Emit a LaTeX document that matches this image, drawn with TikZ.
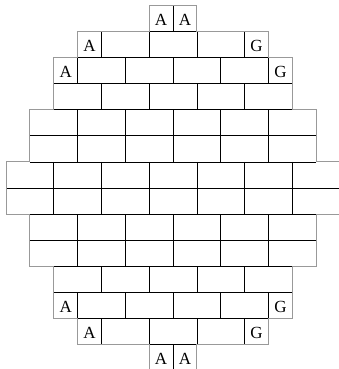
\documentclass[tikz,border=0pt]{standalone}
\usepackage{tikz}
\usepackage{fontspec}
\setmainfont{Liberation Serif}

\begin{document}
\begin{tikzpicture}[
    x=23.86pt, y=-26.1pt,
    joint/.style={draw=black, line width=0.7pt},
    rim/.style={draw=black!40, line width=0.8pt, line join=miter},
    tag/.style={inner sep=0pt, font=\fontsize{17}{17}\selectfont},
]
\useasboundingbox (-0.2515,-0.203) rectangle (13.956,13.935);

% Horizontal joints between the rows
\foreach \y/\a/\b in {1/6/8, 2/3/11, 3/2/12, 4/2/12, 5/1/13, 6/1/13, 7/0/14,
                      8/1/13, 9/1/13, 10/2/12, 11/2/12, 12/3/11, 13/6/8}
  \draw[joint] (\a,\y) -- (\b,\y);

% Vertical joints, row by row
\foreach \r/\xs in {0/{7}, 1/{4,6,8,10}, 2/{3,5,7,9,11}, 3/{4,6,8,10},
                    4/{3,5,7,9,11}, 5/{3,5,7,9,11}, 6/{2,4,6,8,10,12},
                    7/{2,4,6,8,10,12}, 8/{3,5,7,9,11}, 9/{3,5,7,9,11},
                    10/{4,6,8,10}, 11/{3,5,7,9,11}, 12/{4,6,8,10}, 13/{7}}
  \foreach \x in \xs
    \draw[joint] (\x,\r) -- (\x,\r+1);

% Outer rim
\draw[rim] (6,0) -- (8,0) -- (8,1) -- (11,1) -- (11,2) -- (12,2) -- (12,4)
  -- (13,4) -- (13,6) -- (14,6) -- (14,8) -- (13,8) -- (13,10) -- (12,10)
  -- (12,12) -- (11,12) -- (11,13) -- (8,13) -- (8,14) -- (6,14) -- (6,13)
  -- (3,13) -- (3,12) -- (2,12) -- (2,10) -- (1,10) -- (1,8) -- (0,8)
  -- (0,6) -- (1,6) -- (1,4) -- (2,4) -- (2,2) -- (3,2) -- (3,1) -- (6,1) -- cycle;

% Labels
\node (a1) [tag] at (6.5,0.55) {A};
\node (a2) [tag] at (7.5,0.55) {A};
\node (a3) [tag] at (3.5,1.55) {A};
\node (g1) [tag] at (10.5,1.55) {G};
\node (a4) [tag] at (2.5,2.55) {A};
\node (g2) [tag] at (11.5,2.55) {G};
\node (a5) [tag] at (2.5,11.55) {A};
\node (g3) [tag] at (11.5,11.55) {G};
\node (a6) [tag] at (3.5,12.55) {A};
\node (g4) [tag] at (10.5,12.55) {G};
\node (a7) [tag] at (6.5,13.55) {A};
\node (a8) [tag] at (7.5,13.55) {A};

\end{tikzpicture}
\end{document}
